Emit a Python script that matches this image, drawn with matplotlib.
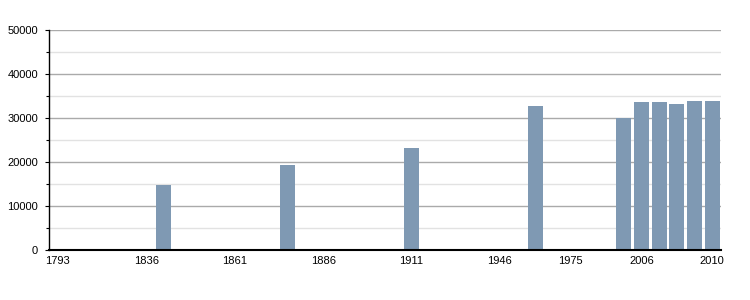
import numpy as np
import matplotlib
matplotlib.use("Agg")
import matplotlib.pyplot as plt

# census years on a categorical axis, only some have a value
years = [1793, 1800, 1806, 1821, 1831, 1836, 1841, 1846, 1851, 1856,
         1861, 1866, 1872, 1876, 1881, 1886, 1891, 1896, 1901, 1906,
         1911, 1921, 1926, 1931, 1936, 1946, 1954, 1962, 1968, 1975,
         1982, 1990, 1999, 2006, 2007, 2008, 2009, 2010]
population = {
    1841: 14850,
    1876: 19300,
    1911: 23250,
    1962: 32750,
    1999: 30050,
    2006: 33650,
    2007: 33640,
    2008: 33180,
    2009: 33860,
    2010: 33870,
}
labelled_years = [1793, 1836, 1861, 1886, 1911, 1946, 1975, 2006, 2010]

plt.rcParams['font.family'] = ['Liberation Sans', 'DejaVu Sans']

fig = plt.figure(figsize=(7.5, 3), dpi=100)
ax = fig.add_axes([49 / 750, 50 / 300, 672 / 750, 220 / 300])

x = np.arange(len(years))
values = [population.get(y, 0) for y in years]
ax.bar(x, values, width=0.85, color='#7f99b3', zorder=3)

ax.set_xlim(-0.5, len(years) - 0.5)
ax.set_ylim(0, 50000)
ax.set_yticks(np.arange(0, 50001, 10000))
ax.set_yticks(np.arange(5000, 50000, 10000), minor=True)
ax.grid(axis='y', which='major', color='#aaaaaa', linewidth=1)
ax.grid(axis='y', which='minor', color='#e2e2e2', linewidth=1)
ax.set_axisbelow(True)

ax.set_xticks([years.index(y) for y in labelled_years])
ax.set_xticklabels([str(y) for y in labelled_years])

ax.tick_params(axis='x', length=0, pad=4, labelsize=8)
ax.tick_params(axis='y', which='major', length=3, width=0.8, pad=5, labelsize=8)
ax.tick_params(axis='y', which='minor', length=2, width=0.8)

for side in ['top', 'right']:
    ax.spines[side].set_visible(False)
ax.spines['left'].set_linewidth(1)
ax.spines['bottom'].set_linewidth(1.5)
ax.spines['bottom'].set_zorder(4)

fig.savefig('out.png', dpi=100)
